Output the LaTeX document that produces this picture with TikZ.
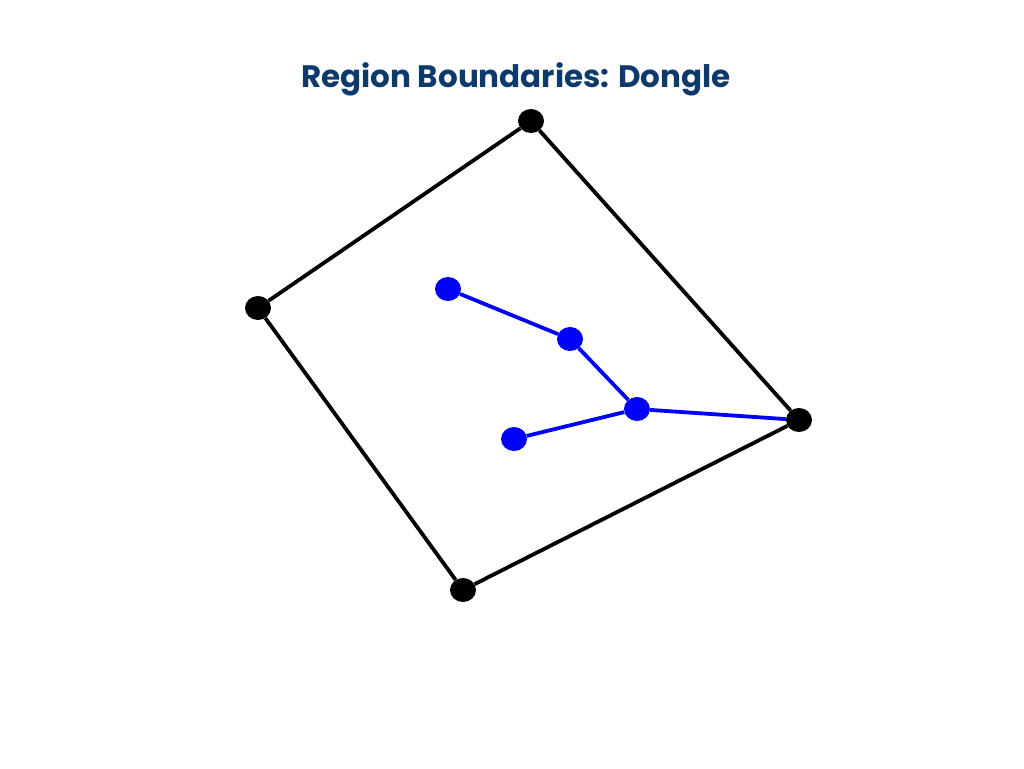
\documentclass[tikz,border=0pt]{standalone}
\usepackage{fontspec}
\usetikzlibrary{shapes.geometric}
\setmainfont{Poppins}
\definecolor{titleblue}{HTML}{0D3A6B}
\begin{document}
\begin{tikzpicture}[x=1pt,y=-1pt,
  bdot/.style={ellipse,fill=black,inner sep=0pt,minimum width=26pt,minimum height=24pt},
  udot/.style={ellipse,fill=blue,inner sep=0pt,minimum width=26pt,minimum height=24pt},
  bline/.style={line width=3.8pt,black,line join=round},
  uline/.style={line width=3.8pt,blue}]
\useasboundingbox[fill=white] (0,0) rectangle (1024,768);
\node[font=\fontsize{31}{36}\selectfont\bfseries,text=titleblue] (title) at (516,79) {Region Boundaries: Dongle};
\node[bdot] (A) at (531,121) {};
\node[bdot] (B) at (258,308) {};
\node[bdot] (C) at (463,590) {};
\node[bdot] (D) at (799,420) {};
\node[udot] (b1) at (448,289) {};
\node[udot] (b2) at (570,339) {};
\node[udot] (b3) at (637,409) {};
\node[udot] (b4) at (514,439) {};
\draw[bline] (A) -- (B);
\draw[bline] (B) -- (C);
\draw[bline] (C) -- (D);
\draw[bline] (D) -- (A);
\draw[uline] (b1) -- (b2);
\draw[uline] (b2) -- (b3);
\draw[uline] (b3) -- (b4);
\draw[uline] (b3) -- (D);
\end{tikzpicture}
\end{document}
